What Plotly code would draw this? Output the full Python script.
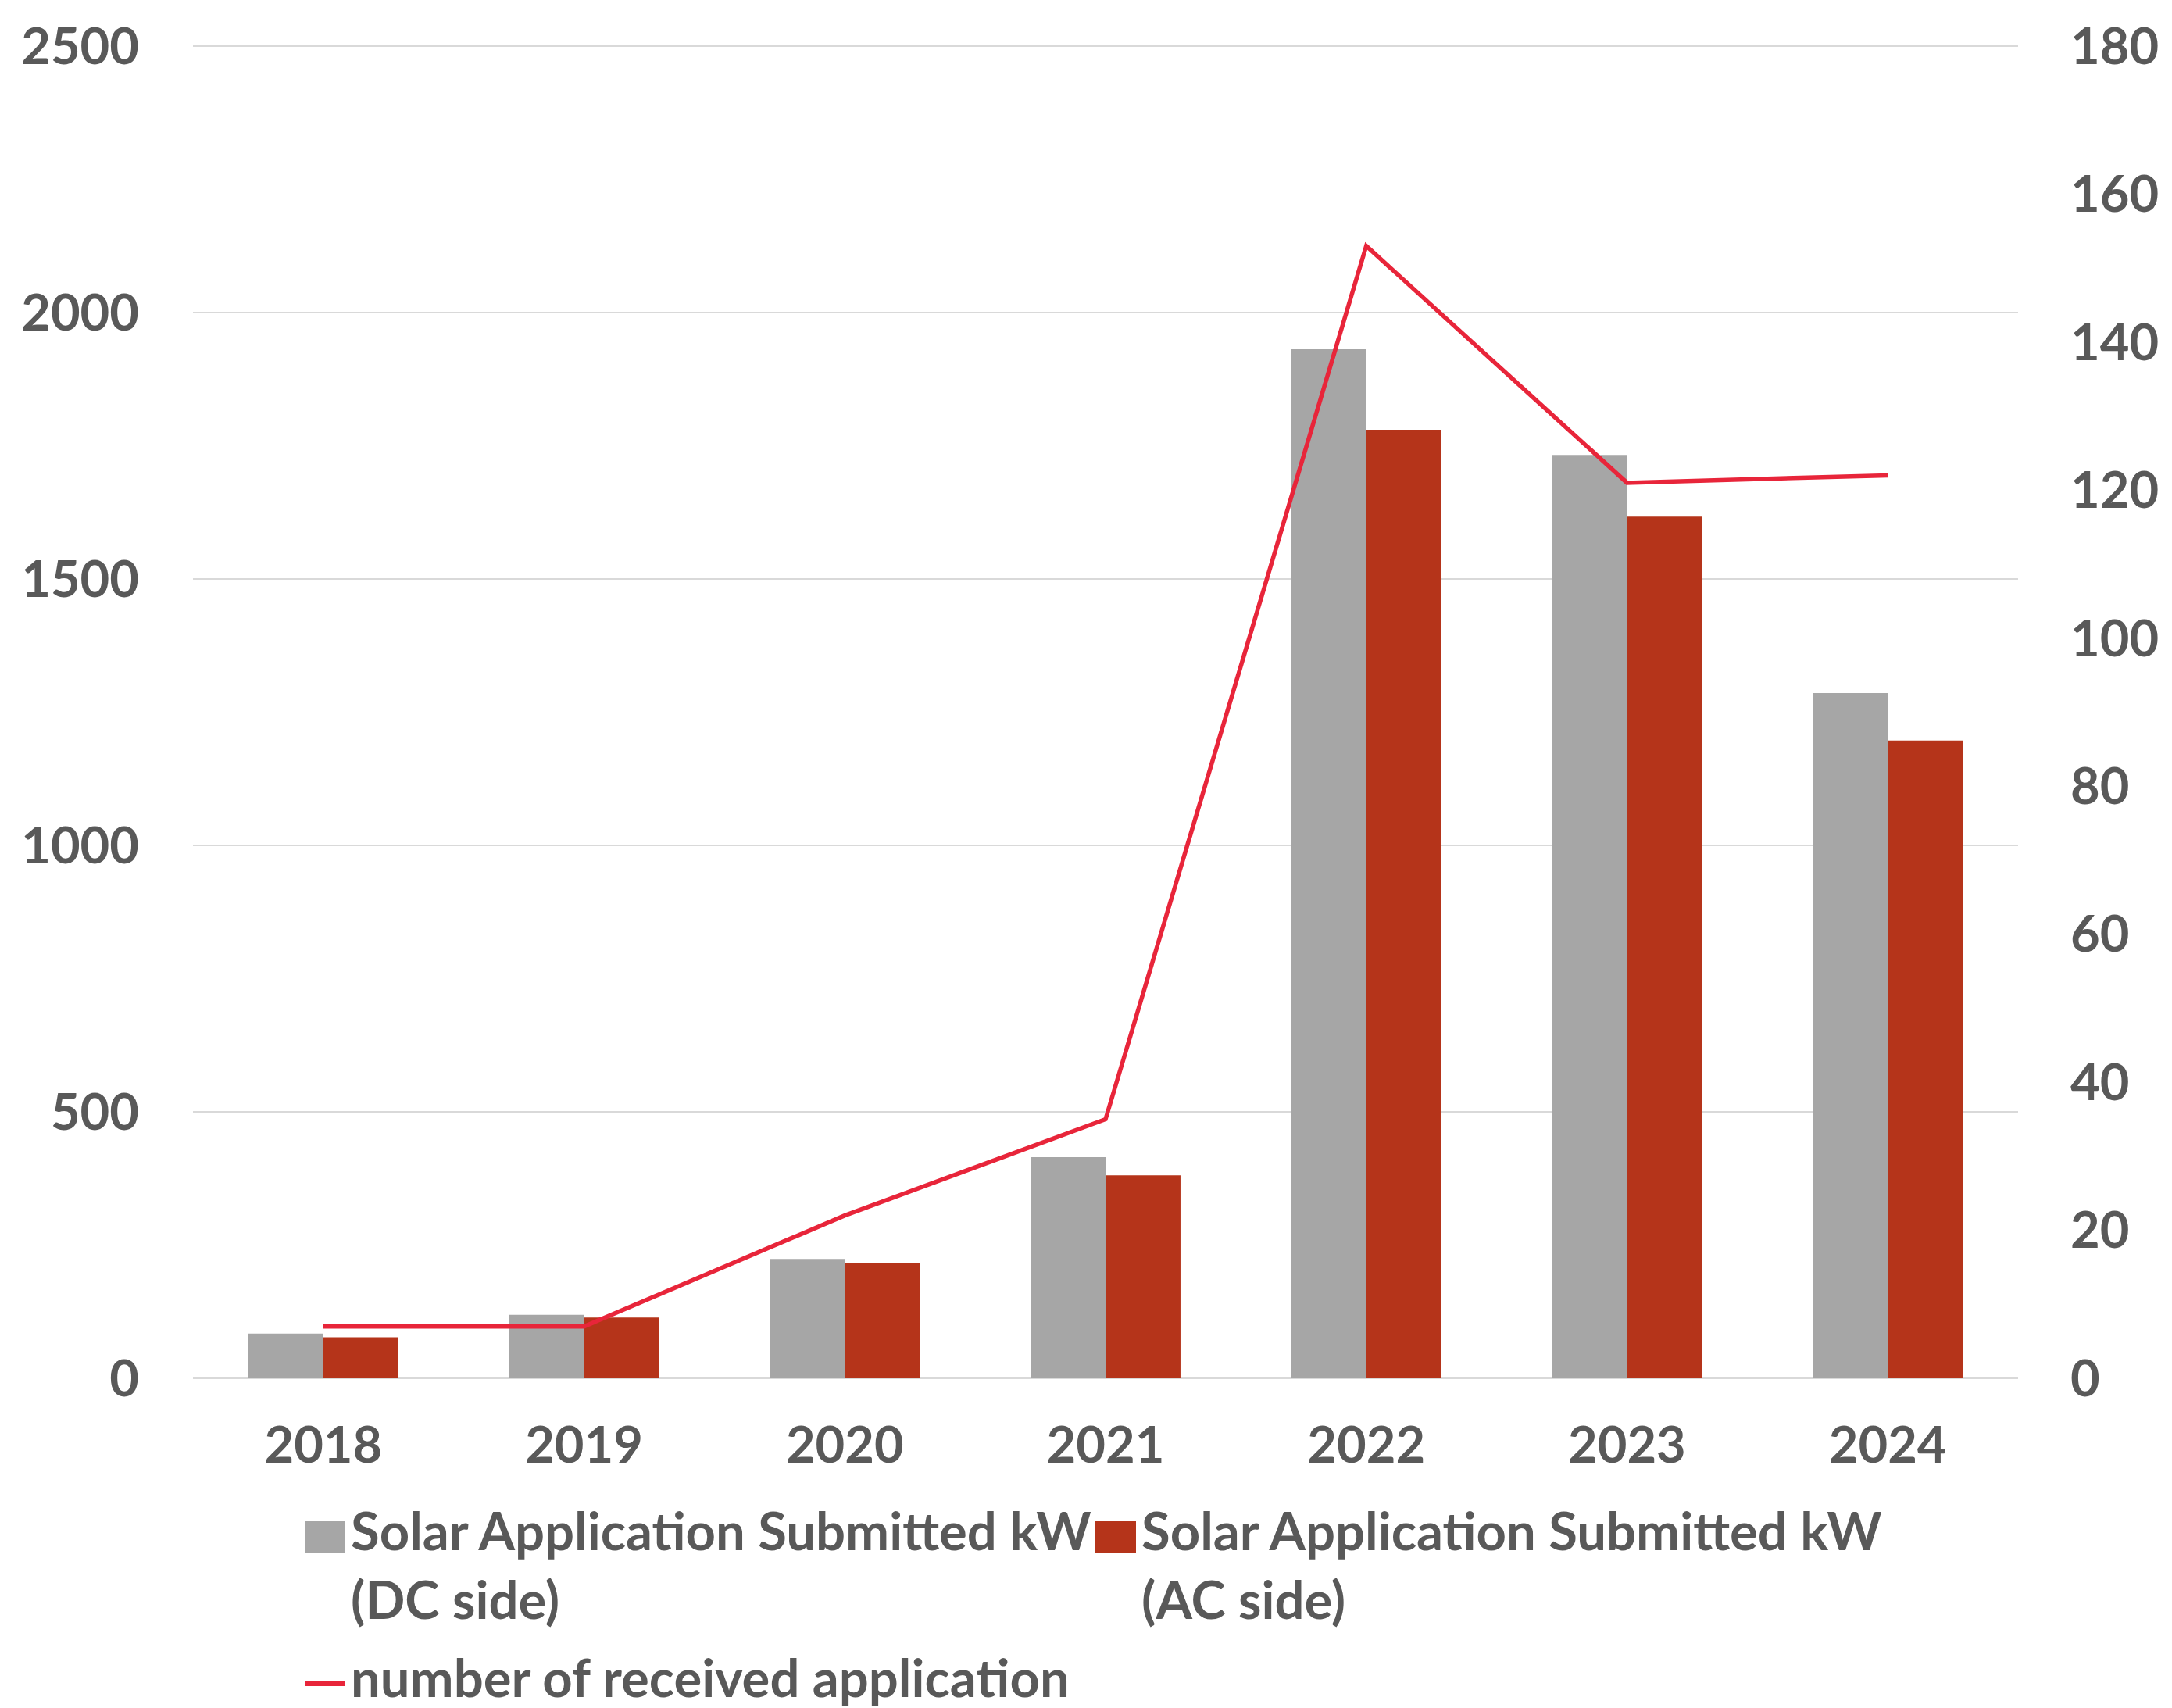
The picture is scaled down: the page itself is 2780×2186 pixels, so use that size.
import plotly.graph_objects as go

years = ["2018", "2019", "2020", "2021", "2022", "2023", "2024"]
dc_kw = [84, 119, 224, 415, 1931, 1733, 1286]
ac_kw = [77, 114, 216, 381, 1780, 1617, 1197]
applications = [7, 7, 22, 35, 153, 121, 122]

legend_dc = ["Solar Application Submitted kW", "(DC side)"]
legend_ac = ["Solar Application Submitted kW", "(AC side)"]
legend_line = "number of received application"

FONT = "Lato"
TXT = "#595959"
GRAY = "#A6A6A6"
RED = "#B5341A"
LINE = "#E8253A"

W, H = 2780, 2186
OFF = 8  # browser body margin
# plot area in screen pixels: left 247, right 2583, top 59, bottom 1764
L = 247 - OFF
T = 57 - OFF
R = W - (2583 - OFF)
B = H - (1764 - OFF)
PW, PH = W - L - R, H - T - B
PAD = 1.0012  # tiny headroom so the top gridline at 2500 / 180 is drawn


def px(xs):
    return (xs - OFF - L) / PW


def py(ys):
    return (H - B - (ys - OFF)) / PH


fig = go.Figure()
fig.add_trace(go.Bar(x=years, y=dc_kw, name=" ".join(legend_dc),
                     marker=dict(color=GRAY, line=dict(width=0))))
fig.add_trace(go.Bar(x=years, y=ac_kw, name=" ".join(legend_ac),
                     marker=dict(color=RED, line=dict(width=0))))
fig.add_trace(go.Scatter(x=years, y=applications, name=legend_line, yaxis="y2", mode="lines",
                         line=dict(color=LINE, width=5.5)))

tickfont = dict(family=FONT, size=65, color=TXT, weight="bold")

# custom legend (swatches + text), positions in screen pixels
shapes = [
    dict(type="rect", xref="paper", yref="paper", x0=px(390), x1=px(442), y0=py(1947), y1=py(1987),
         fillcolor=GRAY, line=dict(width=0)),
    dict(type="rect", xref="paper", yref="paper", x0=px(1402), x1=px(1454), y0=py(1947), y1=py(1987),
         fillcolor=RED, line=dict(width=0)),
    dict(type="line", xref="paper", yref="paper", x0=px(390), x1=px(442), y0=py(2155), y1=py(2155),
         line=dict(color=LINE, width=6)),
]
lfont = dict(family=FONT, size=67, color=TXT, weight="bold")
annotations = []
for xs, lines in ((447, legend_dc), (1459, legend_ac)):
    for i, t in enumerate(lines):
        annotations.append(dict(text=t, xref="paper", yref="paper", x=px(xs), y=py(1958 + 88 * i),
                                xanchor="left", yanchor="middle", showarrow=False, font=lfont))
annotations.append(dict(text=legend_line, xref="paper", yref="paper", x=px(447), y=py(2146),
                        xanchor="left", yanchor="middle", showarrow=False, font=lfont))

fig.update_layout(
    width=W, height=H,
    margin=dict(l=L, r=R, t=T, b=B, autoexpand=False),
    paper_bgcolor="white", plot_bgcolor="white",
    font=dict(family=FONT, size=65, color=TXT),
    barmode="group", bargap=0.425, bargroupgap=0,
    showlegend=False,
    xaxis=dict(showgrid=False, showline=False, ticks="", ticklabelstandoff=42, tickfont=tickfont),
    yaxis=dict(range=[0, 2500 * PAD], tickvals=[0, 500, 1000, 1500, 2000, 2500],
               showgrid=True, gridcolor="#D9D9D9", gridwidth=2,
               zeroline=True, zerolinecolor="#D9D9D9", zerolinewidth=2, showline=False,
               ticks="", ticklabelstandoff=68, tickfont=tickfont),
    yaxis2=dict(range=[0, 180 * PAD], tickvals=[0, 20, 40, 60, 80, 100, 120, 140, 160, 180],
                overlaying="y", side="right", showgrid=False,
                zeroline=False, showline=False, ticks="", ticklabelstandoff=66, tickfont=tickfont),
    shapes=shapes,
    annotations=annotations,
)

fig.write_html("out.html")
